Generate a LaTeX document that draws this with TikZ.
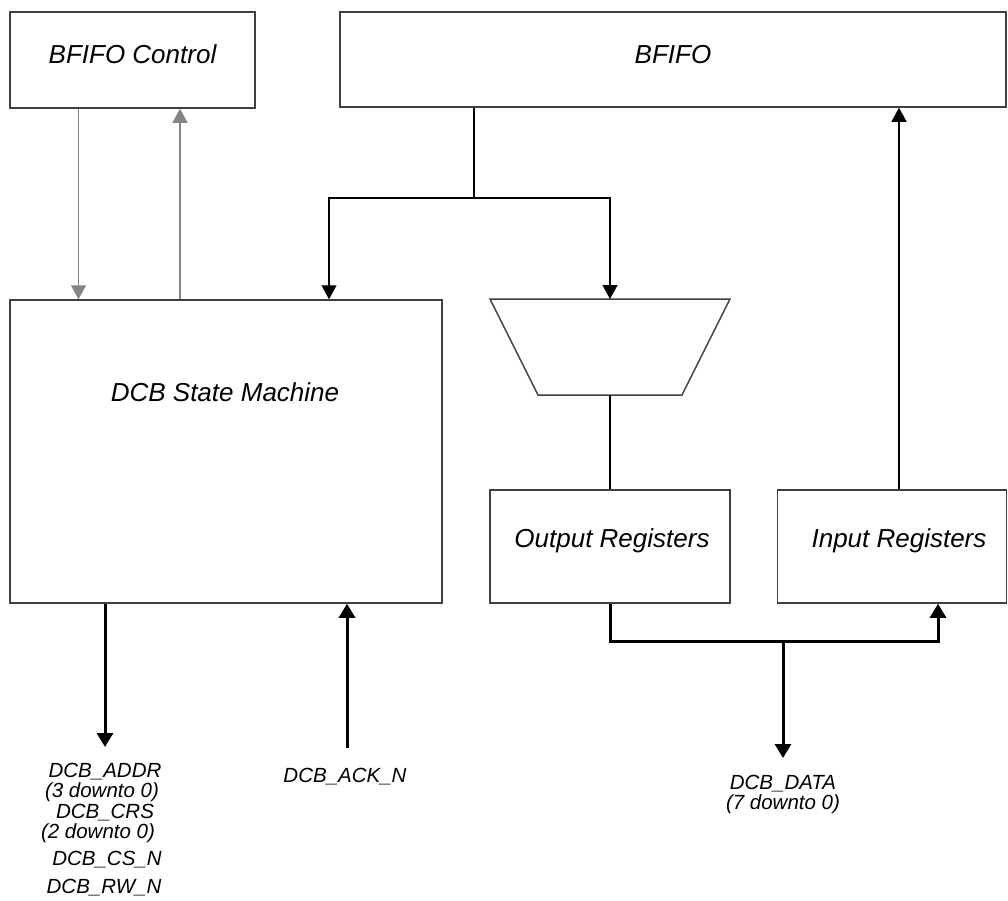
\documentclass[tikz,border=0pt]{standalone}
\usepackage{fontspec}
\setmainfont{Liberation Sans}
\usetikzlibrary{arrows.meta}
\definecolor{boxgray}{HTML}{404040}
\definecolor{ctrlgray}{HTML}{858585}
\begin{document}
\begin{tikzpicture}[x=1pt,y=-1pt,
  box/.style={draw=boxgray, line width=1.5pt, fill=white, inner sep=0pt, rectangle},
  big/.style={font=\fontsize{26}{31}\selectfont\itshape, anchor=base, inner sep=0pt},
  small/.style={font=\fontsize{20.5}{24}\selectfont\itshape, anchor=base, inner sep=0pt},
  thinline/.style={line width=1.3pt, draw=black},
  wire/.style={thinline, -{Triangle[width=15pt,length=14pt]}},
  gwire/.style={line width=1.3pt, draw=ctrlgray, -{Triangle[width=15pt,length=14pt]}, color=ctrlgray},
  tbus/.style={line width=3pt, draw=black, -{Triangle[width=16pt,length=14pt]}}
]
\useasboundingbox (0,0) rectangle (1008,900);

% boxes
\node[box, minimum width=245pt, minimum height=96pt] (bfc) at (132.5,60) {};
\node[big] (bfct) at (132.5,63) {BFIFO Control};
\node[box, minimum width=666pt, minimum height=95pt] (bfifo) at (673,59.5) {};
\node[big] (bfifot) at (673,63) {BFIFO};
\node[box, minimum width=432pt, minimum height=303pt] (dcb) at (226,451.5) {};
\node[big] (dcbt) at (225,401) {DCB State Machine};
\node[box, minimum width=240pt, minimum height=113pt] (outreg) at (610,546.5) {};
\node[big] (outregt) at (612,547) {Output Registers};
\node[box, minimum width=229pt, minimum height=113pt] (inreg) at (892,546.5) {};
\node[big] (inregt) at (899,547) {Input Registers};

% multiplexer (trapezoid)
\coordinate (muxN) at (610,299);
\coordinate (muxS) at (610,395);
\draw[draw=boxgray, line width=1.5pt, line join=miter] (490,299) -- (730,299) -- (682,395) -- (538,395) -- cycle;

% helper x positions
\coordinate (xg1) at (78.5,0);
\coordinate (xg2) at (180,0);
\coordinate (xa) at (329,0);
\coordinate (xin) at (899,0);
\coordinate (xbi) at (938,0);
\coordinate (xaddr) at (105,0);
\coordinate (xack) at (347,0);
\coordinate (split) at (474,198);
\coordinate (bus) at (783,641);
\coordinate (dataend) at (783,758);
\coordinate (addrend) at (105,747);
\coordinate (ackstart) at (347,748);

% control arrows (gray)
\draw[gwire] (bfc.south -| xg1) -- (dcb.north -| xg1);
\draw[gwire] (dcb.north -| xg2) -- (bfc.south -| xg2);

% BFIFO output split
\draw[thinline] (bfifo.south -| split) -- (split);
\draw[wire] (split) -| (dcb.north -| xa);
\draw[wire] (split) -| (muxN);
\draw[thinline] (muxS) -- (outreg.north);
\draw[wire] (inreg.north -| xin) -- (bfifo.south -| xin);

% data bus
\draw[tbus, line join=miter] (outreg.south) |- (bus) -| (inreg.south -| xbi);
\draw[tbus] (bus) -- (dataend);

% DCB signals
\draw[tbus] (dcb.south -| xaddr) -- (addrend);
\draw[tbus] (ackstart) -- (dcb.south -| xack);

% labels
\node[small] (l1) at (105,777) {DCB\_ADDR};
\node[small] (l2) at (102,797) {(3 downto 0)};
\node[small] (l3) at (105,818) {DCB\_CRS};
\node[small] (l4) at (98,838) {(2 downto 0)};
\node[small] (l5) at (107,865) {DCB\_CS\_N};
\node[small] (l6) at (104,893) {DCB\_RW\_N};
\node[small] (lack) at (345,782) {DCB\_ACK\_N};
\node[small] (ldata) at (783,789) {DCB\_DATA};
\node[small] (ldata2) at (783,809) {(7 downto 0)};
\end{tikzpicture}
\end{document}
